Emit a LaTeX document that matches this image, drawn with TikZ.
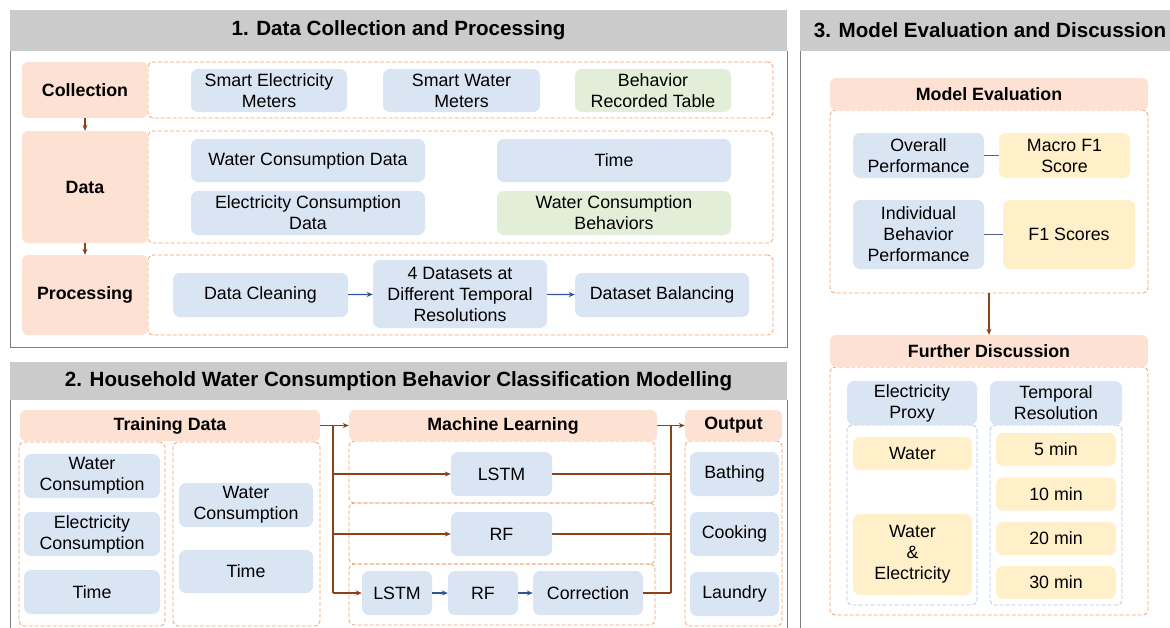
\documentclass[tikz,border=0pt]{standalone}
\usepackage{fontspec}
\setmainfont{Liberation Sans}
\usetikzlibrary{positioning, calc, arrows.meta}

\definecolor{hdrgray}{HTML}{CBCBCB}
\definecolor{framegray}{HTML}{7F7F7F}
\definecolor{peach}{HTML}{FDE1D2}
\definecolor{boxblue}{HTML}{DAE5F4}
\definecolor{boxgreen}{HTML}{E3EED9}
\definecolor{boxyellow}{HTML}{FFF0CA}
\definecolor{dashorange}{HTML}{F2A06A}
\definecolor{dashblue}{HTML}{AFC6EA}
\definecolor{arrbrown}{HTML}{8A4216}
\definecolor{arrblue}{HTML}{2F5597}
\definecolor{linkblue}{HTML}{51628F}

\newcommand{\boxfont}{\fontsize{17.8}{21}\selectfont}

\tikzset{sz/.style 2 args={minimum width=#1, minimum height=#2}}

\begin{document}
\begin{tikzpicture}[
  x=1pt, y=-1pt,
  font=\boxfont,
  sechdr/.style={fill=hdrgray, inner sep=0pt,
                 font=\fontsize{20.6}{24}\selectfont\bfseries},
  cadre/.style={draw=framegray, line width=0.9pt},
  etape/.style={fill=peach, rounded corners=6pt, inner sep=0pt,
                align=center, font=\boxfont\bfseries},
  bleu/.style={fill=boxblue, rounded corners=7pt, inner sep=0pt, align=center},
  vert/.style={bleu, fill=boxgreen},
  jaune/.style={bleu, fill=boxyellow},
  pointille/.style={draw=dashorange, dash pattern=on 4pt off 2pt,
                    line width=0.8pt, rounded corners=5pt, inner sep=0pt},
  pointbleu/.style={pointille, draw=dashblue},
  fleche/.style={draw=arrbrown, line width=1.1pt,
                 -{Stealth[length=6pt,width=5pt]}},
  trait/.style={draw=arrbrown, line width=1.1pt},
  flechebleue/.style={draw=arrblue, line width=1.1pt,
                      -{Stealth[length=6pt,width=5pt]}},
  lien/.style={draw=linkblue, line width=1.1pt}
]
  \fill[white] (0,0) rectangle (1170,627);
  \useasboundingbox (0,0) rectangle (1170,627);

  %=========================================================
  % 1. Collecte et traitement des donnees
  %=========================================================
  \draw[cadre] (10,51) -- (10,347) -- (787,347) -- (787,51);
  \node[sechdr, sz={777}{41}] (s1) at (398.5,30.5)
    {1. Data Collection and Processing};

  \node[pointille, sz={625}{56}]  (rowC) at (460.5,90)  {};
  \node[pointille, sz={625}{112}] (rowD) at (460.5,187) {};
  \node[pointille, sz={625}{80}]  (rowP) at (460.5,295) {};

  \node[etape, sz={126}{56}]  (coll) at (85,90)  {Collection};
  \node[etape, sz={126}{112}] (data) at (85,187) {Data};
  \node[etape, sz={126}{80}]  (proc) at (85,295) {Processing};
  \draw[fleche] (coll) -- (data);
  \draw[fleche] (data) -- (proc);

  % --- collecte ---
  \node[bleu, sz={156}{43}] (sem) at (269,90.5)   {Smart Electricity\\Meters};
  \node[bleu, sz={157}{43}] (swm) at (461.5,90.5) {Smart Water\\Meters};
  \node[vert, sz={156}{43}] (brt) at (653,90.5)   {Behavior\\Recorded Table};

  % --- donnees ---
  \node[bleu, sz={234}{43}] (wcd) at (308,160.5) {Water Consumption Data};
  \node[bleu, sz={234}{44}] (ecd) at (308,213)   {Electricity Consumption\\Data};
  \node[bleu, sz={234}{43}] (tps) at (614,160.5) {Time};
  \node[vert, sz={234}{44}] (wcb) at (614,213)   {Water Consumption\\Behaviors};

  % --- traitement ---
  \node[bleu, sz={175}{44}] (clean) at (260.5,295) {Data Cleaning};
  \node[bleu, sz={174}{68}] (four)  at (460,294)   {4 Datasets at\\Different Temporal\\Resolutions};
  \node[bleu, sz={174}{44}] (bal)   at (662,295)   {Dataset Balancing};
  \draw[flechebleue] (clean) -- (four);
  \draw[flechebleue] (four) -- (bal);

  %=========================================================
  % 2. Modelisation (classification des comportements)
  %=========================================================
  \draw[cadre] (10,400) -- (10,640);
  \draw[cadre] (787,400) -- (787,640);
  \node[sechdr, sz={777}{38}] (s2) at (398.5,381)
    {2. Household Water Consumption Behavior Classification Modelling};

  % --- donnees d'entrainement ---
  \node[pointille, sz={146}{184}] (colA) at (92,534)    {};
  \node[pointille, sz={147}{184}] (colB) at (246.5,534) {};
  \node[etape, sz={300}{31}] (train) at (170,425.5) {Training Data};

  \node[bleu, sz={136}{44}] (wcA) at (92,476)    {Water\\Consumption};
  \node[bleu, sz={136}{44}] (ecA) at (92,534)    {Electricity\\Consumption};
  \node[bleu, sz={136}{44}] (tmA) at (92,592)    {Time};
  \node[bleu, sz={134}{44}] (wcB) at (246,505)   {Water\\Consumption};
  \node[bleu, sz={134}{43}] (tmB) at (246,571.5) {Time};

  % --- apprentissage ---
  \node[pointille, sz={306}{62}] (mlA) at (502,472)   {};
  \node[pointille, sz={306}{61}] (mlB) at (502,533.5) {};
  \node[pointille, sz={306}{61}] (mlC) at (502,594.5) {};
  \node[etape, sz={308}{31}] (ml) at (503,425.5) {Machine Learning};

  \node[bleu, sz={101}{44}] (lstmA) at (501.5,474) {LSTM};
  \node[bleu, sz={101}{44}] (rfA)   at (501.5,534) {RF};
  \node[bleu, sz={70}{44}]  (lstmB) at (397,593)   {LSTM};
  \node[bleu, sz={70}{44}]  (rfB)   at (483,593)   {RF};
  \node[bleu, sz={110}{44}] (corr)  at (588,593)   {Correction};
  \draw[flechebleue] (lstmB) -- (rfB);
  \draw[flechebleue] (rfB) -- (corr);

  % --- sorties ---
  \node[pointille, sz={97}{185}] (colO) at (733.5,533.5) {};
  \node[etape, sz={97}{31}] (out) at (733.5,425.5) {Output};
  \node[bleu, sz={89}{44}] (bath) at (734.5,474) {Bathing};
  \node[bleu, sz={89}{44}] (cook) at (734.5,534) {Cooking};
  \node[bleu, sz={89}{44}] (laun) at (734.5,594) {Laundry};

  % --- liaisons ---
  \coordinate (busin)  at (333,425.5);
  \coordinate (busout) at (671,425.5);
  \draw[trait] (train.east) -- (busin);
  \draw[fleche] (busin) -- (ml.west);
  \draw[trait] (busin) -- (busin |- lstmB.west);
  \draw[fleche] (busin |- lstmA.west) -- (lstmA.west);
  \draw[fleche] (busin |- rfA.west) -- (rfA.west);
  \draw[fleche] (busin |- lstmB.west) -- (lstmB.west);

  \draw[fleche] (ml.east) -- (out.west);
  \draw[trait] (busout) -- (busout |- corr.east);
  \draw[trait] (lstmA.east) -- (lstmA.east -| busout);
  \draw[trait] (rfA.east) -- (rfA.east -| busout);
  \draw[trait] (corr.east) -- (corr.east -| busout);

  %=========================================================
  % 3. Evaluation et discussion
  %=========================================================
  \draw[cadre] (800.5,51) -- (800.5,640);
  \node[sechdr, sz={380}{41}] (s3) at (990,30.5)
    {3. Model Evaluation and Discussion};

  % --- evaluation ---
  \node[pointille, sz={318}{183}] (evalbox) at (989,201.5) {};
  \node[etape, sz={318}{32}] (evalh) at (989,94) {Model Evaluation};
  \node[bleu,  sz={131}{45}] (overall) at (918.5,155.5)  {Overall\\Performance};
  \node[jaune, sz={131}{45}] (macro)   at (1064.5,155.5) {Macro F1\\Score};
  \node[bleu,  sz={131}{69}] (indiv)   at (918.5,234.5)  {Individual\\Behavior\\Performance};
  \node[jaune, sz={132}{69}] (fone)    at (1069,234.5)   {F1 Scores};
  \draw[lien] (overall) -- (macro);
  \draw[lien] (indiv) -- (fone);

  % --- discussion ---
  \node[pointille, sz={318}{248}] (furthbox) at (989,491) {};
  \node[etape, sz={318}{32}] (furth) at (989,351) {Further Discussion};
  \draw[fleche] (evalbox.south) -- (furth.north);

  \node[pointbleu, sz={130}{180}] (proxcol) at (912,515)  {};
  \node[pointbleu, sz={132}{180}] (trescol) at (1056,515) {};
  \node[bleu, sz={130}{44}] (proxy) at (912,403)  {Electricity\\Proxy};
  \node[bleu, sz={132}{44}] (tres)  at (1056,403) {Temporal\\Resolution};

  \node[jaune, sz={119}{33}] (water) at (912.5,453.5) {Water};
  \node[jaune, sz={119}{81}] (wae)   at (912.5,554.5) {Water\\\&\\Electricity};
  \node[jaune, sz={120}{33}] (m5)  at (1056,449.5) {5 min};
  \node[jaune, sz={120}{33}] (m10) at (1056,494)   {10 min};
  \node[jaune, sz={120}{33}] (m20) at (1056,538.5) {20 min};
  \node[jaune, sz={120}{33}] (m30) at (1056,582.5) {30 min};

\end{tikzpicture}
\end{document}
